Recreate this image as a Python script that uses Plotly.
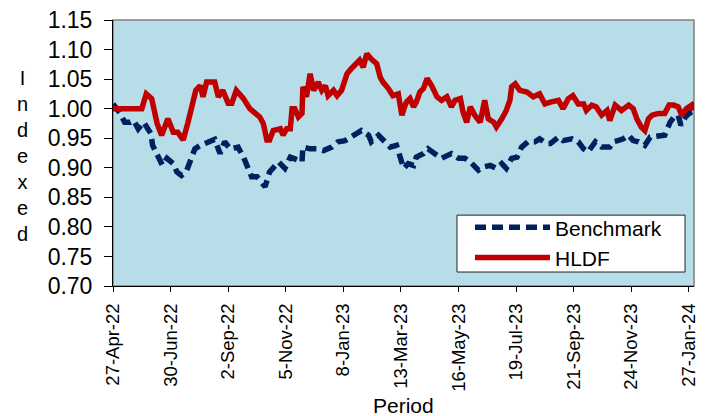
import plotly.graph_objects as go
import pandas as pd

# ---------------- data ----------------
hldf_dates = [
    "2022-04-27", "2022-05-29", "2022-06-03", "2022-06-09", "2022-06-15", "2022-06-20", "2022-06-27", "2022-07-03", "2022-07-08", "2022-07-14",
    "2022-07-19", "2022-07-24", "2022-07-28", "2022-08-02", "2022-08-05", "2022-08-09", "2022-08-13", "2022-08-18", "2022-08-22", "2022-08-27",
    "2022-09-02", "2022-09-06", "2022-09-11", "2022-09-19", "2022-09-26", "2022-10-04", "2022-10-07", "2022-10-11", "2022-10-15", "2022-10-18",
    "2022-10-22", "2022-10-30", "2022-11-02", "2022-11-06", "2022-11-10", "2022-11-12", "2022-11-15", "2022-11-19", "2022-11-23", "2022-11-24",
    "2022-11-28", "2022-12-02", "2022-12-06", "2022-12-11", "2022-12-15", "2022-12-19", "2022-12-22", "2022-12-28", "2023-01-01", "2023-01-06",
    "2023-01-12", "2023-01-17", "2023-01-23", "2023-01-26", "2023-01-30", "2023-02-03", "2023-02-08", "2023-02-14", "2023-02-18", "2023-02-21",
    "2023-02-27", "2023-03-04", "2023-03-10", "2023-03-14", "2023-03-17", "2023-03-19", "2023-03-23", "2023-03-27", "2023-03-30", "2023-04-03",
    "2023-04-07", "2023-04-11", "2023-04-16", "2023-04-22", "2023-04-27", "2023-05-03", "2023-05-08", "2023-05-12", "2023-05-18", "2023-05-21",
    "2023-05-25", "2023-05-29", "2023-06-03", "2023-06-09", "2023-06-14", "2023-06-18", "2023-06-24", "2023-06-27", "2023-07-03", "2023-07-08",
    "2023-07-12", "2023-07-14", "2023-07-18", "2023-07-23", "2023-07-31", "2023-08-07", "2023-08-14", "2023-08-20", "2023-08-26", "2023-09-04",
    "2023-09-09", "2023-09-15", "2023-09-20", "2023-09-26", "2023-10-02", "2023-10-05", "2023-10-11", "2023-10-16", "2023-10-22", "2023-10-28",
    "2023-10-31", "2023-11-06", "2023-11-13", "2023-11-21", "2023-11-26", "2023-11-30", "2023-12-05", "2023-12-09", "2023-12-13", "2023-12-17",
    "2023-12-24", "2023-12-31", "2024-01-05", "2024-01-10", "2024-01-15", "2024-01-19", "2024-01-24", "2024-01-30", "2024-02-01",
]
hldf_values = [
    1.000, 1.000, 1.025, 1.017, 0.975, 0.955, 0.983, 0.960, 0.960, 0.947,
    0.975, 1.003, 1.031, 1.039, 1.020, 1.045, 1.045, 1.045, 1.020, 1.031,
    1.009, 1.009, 1.031, 1.017, 1.000, 0.989, 0.986, 0.975, 0.947, 0.947,
    0.963, 0.966, 0.955, 0.966, 0.966, 1.000, 1.000, 0.986, 0.992, 1.037,
    1.020, 1.059, 1.031, 1.045, 1.031, 1.039, 1.022, 1.031, 1.022, 1.031,
    1.059, 1.068, 1.079, 1.082, 1.070, 1.093, 1.084, 1.076, 1.053, 1.045,
    1.034, 1.022, 1.025, 0.989, 1.003, 1.011, 1.017, 1.003, 1.011, 1.028,
    1.034, 1.051, 1.039, 1.020, 1.014, 1.020, 1.003, 1.014, 1.017, 0.994,
    0.977, 1.003, 0.989, 0.977, 1.014, 0.983, 0.977, 0.969, 0.983, 0.997,
    1.014, 1.037, 1.042, 1.031, 1.028, 1.020, 1.025, 1.008, 1.011, 1.014,
    1.000, 1.017, 1.022, 1.008, 1.008, 0.997, 1.006, 1.003, 0.989, 0.997,
    0.980, 1.006, 0.997, 1.006, 1.000, 0.983, 0.969, 0.963, 0.983, 0.989,
    0.992, 0.992, 1.006, 1.006, 1.003, 0.989, 1.000, 1.006, 0.997,
]

bench_dates = [
    "2022-04-27", "2022-05-05", "2022-05-10", "2022-05-16", "2022-05-20", "2022-05-25", "2022-05-31", "2022-06-04", "2022-06-08", "2022-06-10",
    "2022-06-14", "2022-06-17", "2022-06-21", "2022-06-26", "2022-07-03", "2022-07-07", "2022-07-12", "2022-07-18", "2022-07-22", "2022-07-27",
    "2022-08-02", "2022-08-07", "2022-08-13", "2022-08-18", "2022-08-24", "2022-08-29", "2022-09-04", "2022-09-13", "2022-09-19", "2022-09-23",
    "2022-09-28", "2022-10-04", "2022-10-07", "2022-10-13", "2022-10-18", "2022-10-28", "2022-11-04", "2022-11-10", "2022-11-15", "2022-11-23",
    "2022-11-24", "2022-12-02", "2022-12-09", "2022-12-17", "2022-12-26", "2023-01-02", "2023-01-10", "2023-01-21", "2023-01-28", "2023-02-05",
    "2023-02-08", "2023-02-16", "2023-02-21", "2023-03-01", "2023-03-08", "2023-03-14", "2023-03-16", "2023-03-21", "2023-03-27", "2023-03-30",
    "2023-04-07", "2023-04-12", "2023-04-20", "2023-04-27", "2023-05-08", "2023-05-16", "2023-05-23", "2023-05-29", "2023-06-07", "2023-06-12",
    "2023-06-20", "2023-06-27", "2023-07-03", "2023-07-08", "2023-07-14", "2023-07-20", "2023-07-25", "2023-08-01", "2023-08-09", "2023-08-14",
    "2023-08-22", "2023-08-26", "2023-09-04", "2023-09-09", "2023-09-19", "2023-09-26", "2023-10-02", "2023-10-07", "2023-10-15", "2023-10-22",
    "2023-10-31", "2023-11-04", "2023-11-09", "2023-11-15", "2023-11-21", "2023-11-26", "2023-12-02", "2023-12-09", "2023-12-15", "2023-12-24",
    "2023-12-31", "2024-01-06", "2024-01-10", "2024-01-15", "2024-01-18", "2024-01-23", "2024-01-28", "2024-02-01",
]
bench_values = [
    1.008, 0.992, 0.977, 0.977, 0.980, 0.966, 0.977, 0.966, 0.958, 0.938,
    0.924, 0.918, 0.904, 0.916, 0.907, 0.893, 0.887, 0.896, 0.910, 0.932,
    0.938, 0.941, 0.944, 0.948, 0.924, 0.944, 0.932, 0.935, 0.918, 0.901,
    0.885, 0.885, 0.879, 0.868, 0.893, 0.910, 0.899, 0.918, 0.915, 0.910,
    0.935, 0.932, 0.932, 0.929, 0.935, 0.944, 0.946, 0.955, 0.963, 0.955,
    0.944, 0.955, 0.946, 0.935, 0.938, 0.913, 0.899, 0.907, 0.904, 0.918,
    0.924, 0.932, 0.924, 0.916, 0.924, 0.916, 0.916, 0.910, 0.896, 0.901,
    0.904, 0.899, 0.907, 0.899, 0.916, 0.918, 0.935, 0.944, 0.944, 0.949,
    0.941, 0.941, 0.952, 0.946, 0.949, 0.944, 0.932, 0.927, 0.944, 0.935,
    0.935, 0.944, 0.946, 0.949, 0.955, 0.946, 0.944, 0.938, 0.952, 0.955,
    0.955, 0.977, 0.985, 0.989, 0.972, 0.986, 0.993, 0.995,
]

tick_labels = ["27-Apr-22", "30-Jun-22", "2-Sep-22", "5-Nov-22", "8-Jan-23", "13-Mar-23",
               "16-May-23", "19-Jul-23", "21-Sep-23", "24-Nov-23", "27-Jan-24"]
y_ticks = [0.70, 0.75, 0.80, 0.85, 0.90, 0.95, 1.00, 1.05, 1.10, 1.15]

FONT = "Liberation Sans, Arial, sans-serif"
tick_dates = pd.to_datetime(tick_labels, format="%d-%b-%y")

# plot-area geometry in pixels (used only to place the surrounding text/boxes)
L, R, T, B = 113, 694, 19.5, 286
PW, PH = R - L, B - T

def px_x(x):
    return (x - L) / PW

def px_y(y):
    return (B - y) / PH

fig = go.Figure()
fig.add_trace(go.Scatter(
    x=pd.to_datetime(bench_dates), y=bench_values, mode="lines", name="Benchmark",
    line=dict(color="#002060", width=5.5, dash="11px,6px"),
))
fig.add_trace(go.Scatter(
    x=pd.to_datetime(hldf_dates), y=hldf_values, mode="lines", name="HLDF",
    line=dict(color="#C00000", width=5.5),
))

fig.update_layout(
    width=705, height=416,
    margin=dict(l=L, r=705 - R, t=T, b=416 - B, autoexpand=False),
    paper_bgcolor="white",
    plot_bgcolor="#B7DEE8",
    font=dict(family=FONT, color="black"),
    showlegend=True,
    legend=dict(
        x=px_x(470), y=px_y(207), xanchor="left", yanchor="top",
        bgcolor="rgba(0,0,0,0)", borderwidth=0,
        font=dict(family=FONT, size=21, color="black"),
        itemwidth=75, tracegroupgap=0,
    ),
    xaxis=dict(
        type="date", automargin=False,
        range=["2022-04-27", "2024-02-01 14:00"],
        tickmode="array", tickvals=tick_dates, ticktext=tick_labels,
        tickangle=-90, tickfont=dict(family=FONT, size=18.5, color="black"),
        ticks="outside", ticklen=5, tickcolor="black", ticklabelstandoff=4,
        showline=True, linecolor="black", linewidth=1,
        showgrid=False, zeroline=False,
    ),
    yaxis=dict(
        automargin=False,
        range=[0.70, 1.15],
        tickmode="array", tickvals=y_ticks,
        ticktext=[f"{v:.2f}" for v in y_ticks],
        tickfont=dict(family=FONT, size=23, color="black"),
        ticks="outside", ticklen=8, tickcolor="black", ticklabelstandoff=7,
        showline=True, linecolor="black", linewidth=1,
        showgrid=False, zeroline=False,
    ),
    shapes=[
        dict(type="rect", xref="paper", yref="paper", x0=0, x1=1, y0=0, y1=1,
             line=dict(color="#808080", width=1.5), layer="below"),
        dict(type="rect", xref="paper", yref="paper",
             x0=px_x(457), x1=px_x(685), y0=px_y(272), y1=px_y(215),
             fillcolor="white", line=dict(color="#222222", width=1), layer="above"),
    ],
    annotations=[
        dict(text="I<br>n<br>d<br>e<br>x<br>e<br>d", xref="paper", yref="paper",
             x=px_x(22), y=px_y(156), xanchor="center", yanchor="middle",
             showarrow=False, font=dict(family=FONT, size=20, color="black"), align="center"),
        dict(text="Period", xref="paper", yref="paper",
             x=0.5, y=px_y(406), xanchor="center", yanchor="middle",
             showarrow=False, font=dict(family=FONT, size=21, color="black")),
    ],
)

fig.write_html(
    "out.html",
    config={"displayModeBar": False},
    post_script="document.body.style.margin='0';document.body.style.overflow='hidden';",
)
